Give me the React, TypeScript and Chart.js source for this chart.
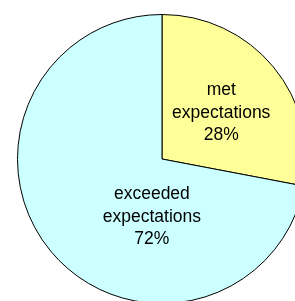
import React, { useEffect, useRef } from "react";
import { Chart, registerables } from "chart.js";

Chart.register(...registerables);

const categories = ["met expectations", "exceeded expectations"];
const labelLines = [["met", "expectations", "28%"], ["exceeded", "expectations", "72%"]];
const values = [28, 72];
const colors = ["#FFFF99", "#CCFFFF"];
// label anchor offsets, as fractions of the pie radius from its centre
const labelOffsetX = [0.41, -0.07];
const labelOffsetY = [-0.32, 0.4];

const labelPlugin = {
  id: "pieLabels",
  afterDatasetsDraw(chart: any) {
    const ctx = chart.ctx;
    const meta = chart.getDatasetMeta(0);
    ctx.save();
    ctx.font = "17.5px 'Liberation Sans', Arial, sans-serif";
    ctx.fillStyle = "#000000";
    ctx.textAlign = "center";
    ctx.textBaseline = "middle";
    const lineH = 22.5;
    meta.data.forEach((arc: any, i: number) => {
      const { x, y, outerRadius } = arc.getProps(["x", "y", "outerRadius"], true);
      const cx = x + labelOffsetX[i] * outerRadius;
      const cy = y + labelOffsetY[i] * outerRadius;
      const lines = labelLines[i];
      lines.forEach((t, k) => {
        ctx.fillText(t, cx, cy + (k - (lines.length - 1) / 2) * lineH);
      });
    });
    ctx.restore();
  },
};

export default function App() {
  const ref = useRef<HTMLCanvasElement | null>(null);
  useEffect(() => {
    if (!ref.current) return;
    const chart = new Chart(ref.current, {
      type: "pie",
      data: {
        labels: categories,
        datasets: [
          {
            data: values,
            backgroundColor: colors,
            borderColor: "#000000",
            borderWidth: 1,
            borderAlign: "center",
          },
        ],
      },
      options: {
        responsive: false,
        animation: false,
        events: [],
        layout: { padding: 0 },
        plugins: {
          legend: { display: false },
          tooltip: { enabled: false },
        },
      },
      plugins: [labelPlugin],
    } as any);
    return () => chart.destroy();
  }, []);
  return (
    <div
      style={{
        position: "fixed",
        left: 0,
        top: 0,
        width: 295,
        height: 301,
        overflow: "hidden",
        background: "#ffffff",
      }}
    >
      <canvas
        ref={ref}
        width={290}
        height={290}
        style={{ position: "absolute", left: 17, top: 14, width: 290, height: 290 }}
      />
    </div>
  );
}
